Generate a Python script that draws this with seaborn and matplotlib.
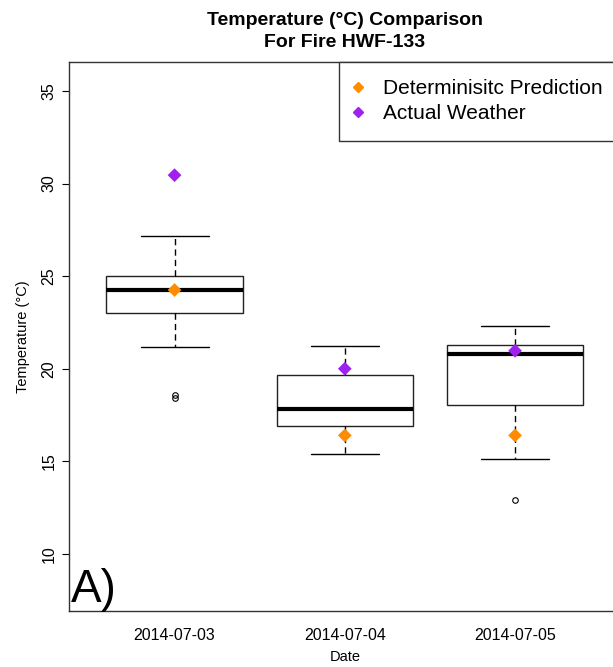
import matplotlib
matplotlib.use("Agg")
import matplotlib.pyplot as plt
import seaborn as sns
import pandas as pd
from matplotlib.lines import Line2D

# ---- data ----
dates = ["2014-07-03", "2014-07-04", "2014-07-05"]
ens_0703 = [18.4, 18.6, 21.2, 23.0, 23.5, 24.0, 24.25, 24.5, 24.8, 25.0, 25.6, 26.3, 27.15]
ens_0704 = [15.4, 16.0, 16.5, 16.9, 17.2, 17.5, 17.85, 18.3, 19.0, 19.65, 20.2, 20.8, 21.25]
ens_0705 = [12.9, 15.1, 17.0, 18.05, 19.5, 20.4, 20.8, 20.9, 21.1, 21.28, 21.6, 22.0, 22.3]
deterministic = [24.25, 16.4, 16.4]
actual = [30.45, 20.0, 20.97]
series_names = ["Determinisitc Prediction", "Actual Weather"]
series_colors = ["#FF8C00", "#A020F0"]

ens = pd.DataFrame({
    "Date": [dates[0]] * len(ens_0703) + [dates[1]] * len(ens_0704) + [dates[2]] * len(ens_0705),
    "Temp": ens_0703 + ens_0704 + ens_0705,
})
pts = pd.DataFrame({
    "Date": dates + dates,
    "Temp": deterministic + actual,
    "Series": [series_names[0]] * 3 + [series_names[1]] * 3,
})

sns.set_theme(style="white")
plt.rcParams["font.family"] = ["Liberation Sans", "DejaVu Sans"]
for k in ["text.color", "axes.labelcolor", "xtick.color", "ytick.color"]:
    plt.rcParams[k] = "black"

fig = plt.figure(figsize=(6.13, 6.67), dpi=100)
ax = fig.add_axes([69 / 613, 56 / 667, 551.6 / 613, 549 / 667])

sns.boxplot(data=ens, x="Date", y="Temp", order=dates, width=0.8, color="white",
            linecolor="black", linewidth=1.0, whis=1.5, ax=ax,
            boxprops={"facecolor": "white", "edgecolor": "#222222"},
            whiskerprops={"linestyle": (0, (4.5, 3)), "color": "black"},
            capprops={"color": "black"},
            medianprops={"linewidth": 3, "color": "black"},
            flierprops={"marker": "o", "markersize": 4, "markerfacecolor": "none",
                        "markeredgecolor": "black", "markeredgewidth": 0.8})

sns.stripplot(data=pts, x="Date", y="Temp", hue="Series", order=dates,
              hue_order=series_names, palette=series_colors, marker="D", size=7,
              jitter=False, dodge=False, linewidth=0, ax=ax, legend=False, zorder=5)

ax.set_xlim(-0.62, 2.62)
ax.set_ylim(6.92, 36.56)
ax.set_yticks([10, 15, 20, 25, 30, 35])
ax.set_yticklabels(["10", "15", "20", "25", "30", "35"], rotation=90, va="center")
ax.tick_params(axis="both", direction="out", length=5, width=0.8, colors="black",
               labelsize=11.5, left=True, bottom=False)
ax.tick_params(axis="x", pad=7)
ax.tick_params(axis="y", pad=4)
for s in ax.spines.values():
    s.set_color("#333333")
    s.set_linewidth(1.0)

ax.set_xlabel("Date", fontsize=10.5, labelpad=5, color="black")
ax.set_ylabel("Temperature (°C)", fontsize=10.5, labelpad=8, color="black")
ax.set_title("Temperature (°C) Comparison\nFor Fire HWF-133", fontsize=14,
             fontweight="bold", pad=11, linespacing=1.4, color="black")

handles = [Line2D([0], [0], marker="D", linestyle="none", markersize=5,
                  markerfacecolor=c, markeredgecolor=c) for c in series_colors]
leg = ax.legend(handles, series_names, loc="upper right", bbox_to_anchor=(1.0, 1.0),
                borderaxespad=0, fancybox=False, edgecolor="#333333", framealpha=1,
                fontsize=15, handletextpad=1.17, handlelength=0.12, borderpad=0.84,
                labelspacing=0.28)
leg.get_frame().set_linewidth(1.0)

ax.text(0.003, 0.016, "A)", transform=ax.transAxes, fontsize=33, ha="left",
        va="baseline", color="black")

fig.savefig("out.png", dpi=100)
